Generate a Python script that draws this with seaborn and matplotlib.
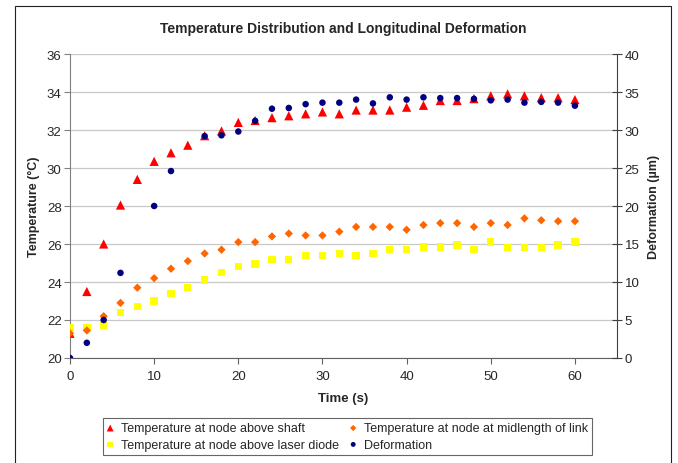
import numpy as np
import matplotlib
matplotlib.use("Agg")
import matplotlib.pyplot as plt
import pandas as pd
import seaborn as sns

# data
time_s = [0, 2, 4, 6, 8, 10, 12, 14, 16, 18, 20, 22, 24, 26, 28, 30,
          32, 34, 36, 38, 40, 42, 44, 46, 48, 50, 52, 54, 56, 58, 60]
temp_shaft = [21.3, 23.5, 26.0, 28.05, 29.4, 30.35, 30.8, 31.2, 31.7, 31.95, 32.4,
              32.5, 32.65, 32.75, 32.85, 32.95, 32.85, 33.05, 33.05, 33.05, 33.2,
              33.3, 33.55, 33.55, 33.65, 33.8, 33.9, 33.8, 33.7, 33.7, 33.6]
temp_midlength = [21.3, 21.45, 22.2, 22.9, 23.7, 24.2, 24.7, 25.1, 25.5, 25.7, 26.1,
                  26.1, 26.4, 26.55, 26.45, 26.45, 26.65, 26.9, 26.9, 26.9, 26.75,
                  27.0, 27.1, 27.1, 26.9, 27.1, 27.0, 27.35, 27.25, 27.2, 27.2]
temp_laser = [21.6, 21.6, 21.7, 22.4, 22.7, 23.0, 23.4, 23.7, 24.1, 24.5, 24.8,
              24.95, 25.2, 25.2, 25.4, 25.4, 25.5, 25.4, 25.5, 25.7, 25.7,
              25.85, 25.85, 25.95, 25.7, 26.1, 25.8, 25.8, 25.8, 25.95, 26.1]

time_def = [0, 2, 4, 6, 10, 12, 16, 18, 20, 22, 24, 26, 28, 30, 32, 34, 36,
            38, 40, 42, 44, 46, 48, 50, 52, 54, 56, 58, 60]
deformation = [0.0, 2.0, 5.0, 11.2, 20.0, 24.6, 29.2, 29.3, 29.8, 31.2, 32.8, 32.9,
               33.4, 33.6, 33.6, 34.0, 33.5, 34.3, 34.0, 34.3, 34.2, 34.2, 34.1,
               33.9, 34.0, 33.6, 33.7, 33.6, 33.2]

temps = pd.DataFrame({"time": time_s, "shaft": temp_shaft,
                      "mid": temp_midlength, "laser": temp_laser})
defo = pd.DataFrame({"time": time_def, "deformation": deformation})

sns.set_style("white")
plt.rcParams["font.family"] = ["Liberation Sans", "DejaVu Sans"]

fig = plt.figure(figsize=(6.78, 4.64), dpi=100)
ax = fig.add_axes([70/678, 1-359/464, (617-70)/678, (359-55)/464])

sns.scatterplot(data=temps, x="time", y="shaft", ax=ax, marker="^", s=44,
                color="#FF0000", edgecolor="none", linewidth=0,
                label="Temperature at node above shaft", zorder=3)
sns.scatterplot(data=temps, x="time", y="laser", ax=ax, marker="s", s=28,
                color="#FFFF00", edgecolor="none", linewidth=0,
                label="Temperature at node above laser diode", zorder=3)
sns.scatterplot(data=temps, x="time", y="mid", ax=ax, marker="D", s=18,
                color="#FF6600", edgecolor="none", linewidth=0,
                label="Temperature at node at midlength of link", zorder=3)

ax2 = ax.twinx()
sns.scatterplot(data=defo, x="time", y="deformation", ax=ax2, marker="o", s=22,
                color="#000080", edgecolor="none", linewidth=0,
                label="Deformation", zorder=3)

ax.set_xlim(0, 65)
ax.set_ylim(20, 36)
ax2.set_ylim(0, 40)
ax.set_xticks([0, 10, 20, 30, 40, 50, 60])
ax.set_yticks(np.arange(20, 37, 2))
ax2.set_yticks(np.arange(0, 41, 5))
ax.grid(axis="y", color="#c8c8c8", linewidth=0.9)
ax.set_axisbelow(True)

for a in (ax, ax2):
    a.spines["top"].set_visible(False)
ax.spines["right"].set_visible(False)
ax.spines["left"].set_color("#808080")
ax.spines["bottom"].set_color("#606060")
ax2.spines["left"].set_visible(False)
ax2.spines["bottom"].set_visible(False)
ax2.spines["right"].set_color("#404040")

ax.tick_params(axis="y", direction="out", length=4, width=0.8, color="#808080",
               labelsize=9.5, pad=2, left=True)
ax.tick_params(axis="x", direction="out", length=4, width=0.8, color="#606060",
               labelsize=9.5, pad=5, bottom=True)
ax2.tick_params(axis="y", direction="inout", length=7, width=0.8, color="#404040",
                labelsize=9.5, pad=2, right=True)

ax.set_xlabel("Time (s)", fontsize=9.5, fontweight="bold", labelpad=7)
ax.set_ylabel("Temperature (\u00b0C)", fontsize=9, fontweight="bold", labelpad=5)
ax2.set_ylabel("Deformation (\u00b5m)", fontsize=9, fontweight="bold", labelpad=6)

fig.text(343/678, 1-29/464, "Temperature Distribution and Longitudinal Deformation",
         ha="center", va="center", fontsize=10, fontweight="bold")

h1, l1 = ax.get_legend_handles_labels()
h2, l2 = ax2.get_legend_handles_labels()
ax.get_legend().remove()
ax2.get_legend().remove()
handles = [h1[0], h1[1], h1[2], h2[0]]
labels = [l1[0], l1[1], l1[2], l2[0]]
leg = fig.legend(handles, labels, ncol=2, loc="center",
                 bbox_to_anchor=(347.5/678, 1-437.5/464), fontsize=9,
                 frameon=True, fancybox=False, edgecolor="#404040",
                 handlelength=0.5, handletextpad=0.6, columnspacing=0.9,
                 labelspacing=0.35, borderpad=0.35, markerscale=0.75)
leg.get_frame().set_linewidth(0.8)

# outer chart border (bottom edge falls outside the image)
border = plt.Rectangle((15/678, -0.05), (671-15)/678, 1.05-7/464,
                       transform=fig.transFigure, fill=False,
                       edgecolor="#202020", linewidth=0.8, clip_on=False)
fig.patches.append(border)

fig.savefig("out.png", dpi=100)
